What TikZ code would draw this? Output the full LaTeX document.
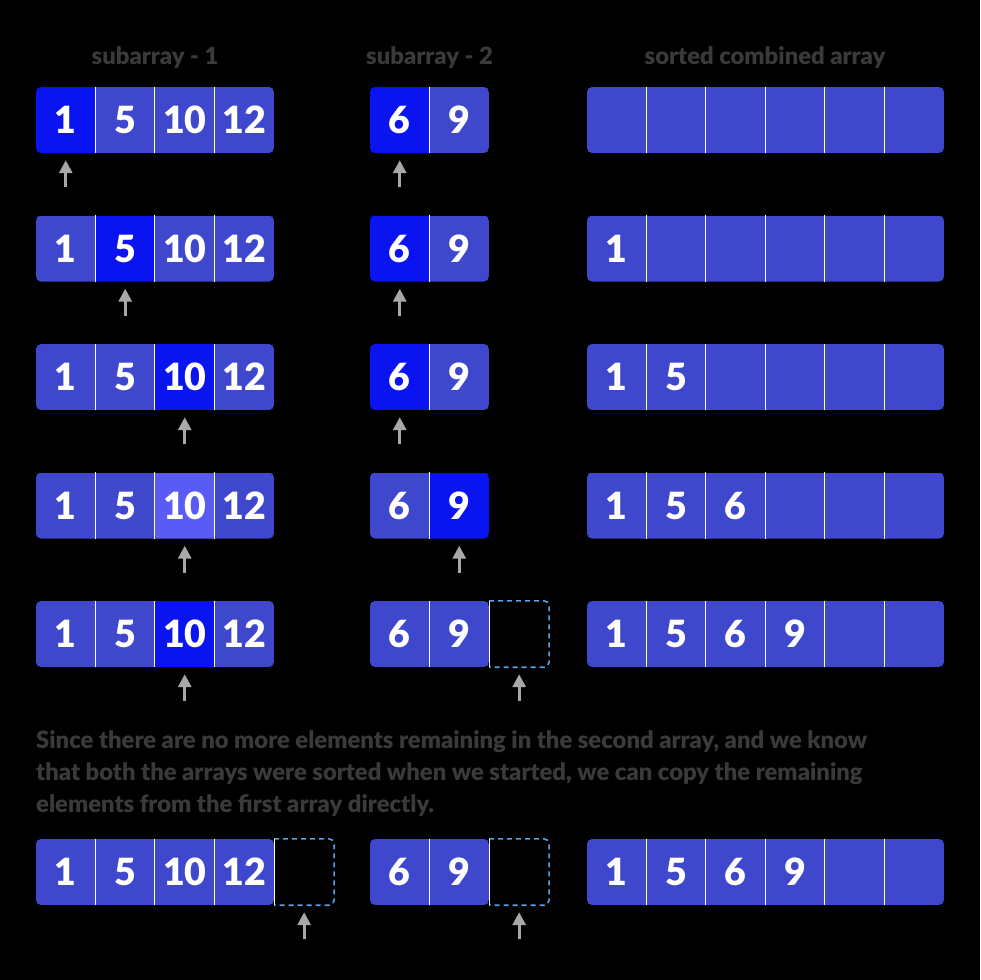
\documentclass[tikz,border=0pt]{standalone}
\usepackage{fontspec}
\setmainfont{Lato}[BoldFont={Lato Black}]
\usetikzlibrary{calc,arrows.meta}

\definecolor{base}{HTML}{3F48CC}
\definecolor{hl}{HTML}{0A14F0}
\definecolor{soft}{HTML}{5A5AF5}
\definecolor{holeblue}{HTML}{5AA0E6}
\definecolor{ptrgray}{HTML}{A8A8A8}
\definecolor{note}{HTML}{3A3A3A}

% one array: name, left x, top y, number of cells, value/colour list
\newcommand{\arr}[5]{%
  \begin{scope}
    \clip[rounded corners=5pt] (#2,#3) rectangle ++(59.5*#4,66);
    \foreach \v/\c [count=\i] in {#5}
      \node[cell,fill=\c] (#1-\i) at (#2+59.5*\i-29.75,#3+33) {\v};
  \end{scope}
  \foreach \i in {2,...,#4}
    \draw[divider] (#1-\i.north west) -- (#1-\i.south west);
}
% empty slot after the last cell
\newcommand{\slot}[2]{%
  \node[cell,anchor=west] (#1) at (#2.east) {};
  \draw[slotline] (#1.north west) -- (#1.north east) -- (#1.south east) -- (#1.south west);
  \draw[divider] (#1.north west) -- (#1.south west);
}
\newcommand{\ptr}[1]{\draw[pointer] ($(#1.south)+(0,34)$) -- ($(#1.south)+(0,7)$);}

\begin{document}
\begin{tikzpicture}[x=1pt,y=-1pt,
    cell/.style={minimum width=59.5pt,minimum height=66pt,inner sep=0pt,
        text=white,font=\bfseries\fontsize{37.5}{37.5}\selectfont},
    divider/.style={white,line width=1.2pt},
    slotline/.style={holeblue,dash pattern=on 5pt off 4pt,line width=1.6pt,rounded corners=5pt},
    pointer/.style={ptrgray,line width=3pt,-{Triangle[width=13pt,length=13pt]}},
    title/.style={note,font=\bfseries\fontsize{23.8}{23.8}\selectfont},
    explain/.style={note,font=\bfseries\fontsize{23.8}{32}\selectfont,align=left,inner sep=0pt}]
    \fill[black] (0,0) rectangle (980,980);
    \useasboundingbox (0,0) rectangle (980,980);

    \node[title] (t1) at (155,58) {subarray - 1};
    \node[title] (t2) at (429.5,58) {subarray - 2};
    \node[title] (t3) at (765,58) {sorted combined array};

    % step 1
    \arr{a1}{36}{87}{4}{1/hl,5/base,10/base,12/base}
    \arr{b1}{370}{87}{2}{6/hl,9/base}
    \arr{c1}{587}{87}{6}{{}/base,{}/base,{}/base,{}/base,{}/base,{}/base}
    \ptr{a1-1} \ptr{b1-1}

    % step 2
    \arr{a2}{36}{215.5}{4}{1/base,5/hl,10/base,12/base}
    \arr{b2}{370}{215.5}{2}{6/hl,9/base}
    \arr{c2}{587}{215.5}{6}{1/base,{}/base,{}/base,{}/base,{}/base,{}/base}
    \ptr{a2-2} \ptr{b2-1}

    % step 3
    \arr{a3}{36}{344}{4}{1/base,5/base,10/hl,12/base}
    \arr{b3}{370}{344}{2}{6/hl,9/base}
    \arr{c3}{587}{344}{6}{1/base,5/base,{}/base,{}/base,{}/base,{}/base}
    \ptr{a3-3} \ptr{b3-1}

    % step 4
    \arr{a4}{36}{472.5}{4}{1/base,5/base,10/soft,12/base}
    \arr{b4}{370}{472.5}{2}{6/base,9/hl}
    \arr{c4}{587}{472.5}{6}{1/base,5/base,6/base,{}/base,{}/base,{}/base}
    \ptr{a4-3} \ptr{b4-2}

    % step 5
    \arr{a5}{36}{601}{4}{1/base,5/base,10/hl,12/base}
    \arr{b5}{370}{601}{2}{6/base,9/base}
    \slot{b5-3}{b5-2}
    \arr{c5}{587}{601}{6}{1/base,5/base,6/base,9/base,{}/base,{}/base}
    \ptr{a5-3} \ptr{b5-3}

    \node[explain,anchor=north west] (txt) at (36,730)
        {Since there are no more elements remaining in the second array, and we know\\
         that both the arrays were sorted when we started, we can copy the remaining\\
         elements from the first array directly.};

    % step 6
    \arr{a6}{36}{839}{4}{1/base,5/base,10/base,12/base}
    \slot{a6-5}{a6-4}
    \arr{b6}{370}{839}{2}{6/base,9/base}
    \slot{b6-3}{b6-2}
    \arr{c6}{587}{839}{6}{1/base,5/base,6/base,9/base,{}/base,{}/base}
    \ptr{a6-5} \ptr{b6-3}
\end{tikzpicture}
\end{document}
